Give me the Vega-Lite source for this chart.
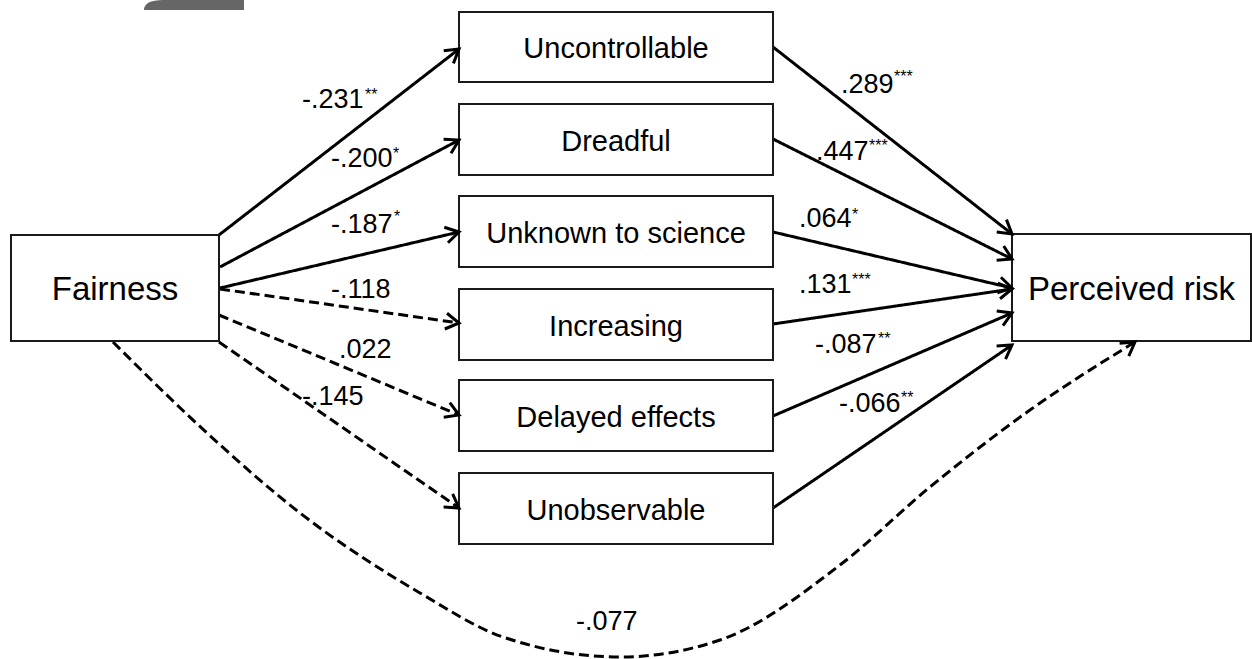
{
  "$schema": "https://vega.github.io/schema/vega-lite/v6.json",
  "width": 1252,
  "height": 659,
  "autosize": "none",
  "padding": 0,
  "background": "white",
  "config": {"view": {"stroke": null}, "font": "Liberation Sans"},
  "datasets": {
    "tab": [{"x": 194, "y": 5}],
    "boxes": [
      {"name": "Fairness", "kind": "outer", "x": 11, "x2": 219, "y": 235, "y2": 341},
      {"name": "Perceived risk", "kind": "outer", "x": 1012, "x2": 1251, "y": 234, "y2": 341},
      {"name": "Uncontrollable", "kind": "mediator", "x": 459, "x2": 773, "y": 12, "y2": 82},
      {"name": "Dreadful", "kind": "mediator", "x": 459, "x2": 773, "y": 104, "y2": 175},
      {"name": "Unknown to science", "kind": "mediator", "x": 459, "x2": 773, "y": 196, "y2": 267},
      {"name": "Increasing", "kind": "mediator", "x": 459, "x2": 773, "y": 289, "y2": 360},
      {"name": "Delayed effects", "kind": "mediator", "x": 459, "x2": 773, "y": 380, "y2": 451},
      {"name": "Unobservable", "kind": "mediator", "x": 459, "x2": 773, "y": 473, "y2": 544}
    ],
    "edges": [
      {"from": "Fairness", "to": "Uncontrollable", "path": "solid", "shape": "straight", "x": 219, "y": 235, "x2": 459, "y2": 49},
      {"from": "Fairness", "to": "Dreadful", "path": "solid", "shape": "straight", "x": 220, "y": 267, "x2": 459, "y2": 140},
      {"from": "Fairness", "to": "Unknown to science", "path": "solid", "shape": "straight", "x": 220, "y": 288, "x2": 459, "y2": 232},
      {"from": "Fairness", "to": "Increasing", "path": "dashed", "shape": "straight", "x": 220, "y": 289, "x2": 459, "y2": 323},
      {"from": "Fairness", "to": "Delayed effects", "path": "dashed", "shape": "straight", "x": 219, "y": 315, "x2": 459, "y2": 415},
      {"from": "Fairness", "to": "Unobservable", "path": "dashed", "shape": "straight", "x": 219, "y": 342, "x2": 459, "y2": 508},
      {"from": "Uncontrollable", "to": "Perceived risk", "path": "solid", "shape": "straight", "x": 773, "y": 47, "x2": 1012, "y2": 234},
      {"from": "Dreadful", "to": "Perceived risk", "path": "solid", "shape": "straight", "x": 773, "y": 139, "x2": 1012, "y2": 259},
      {"from": "Unknown to science", "to": "Perceived risk", "path": "solid", "shape": "straight", "x": 773, "y": 232, "x2": 1012, "y2": 288},
      {"from": "Increasing", "to": "Perceived risk", "path": "solid", "shape": "straight", "x": 773, "y": 324, "x2": 1012, "y2": 289},
      {"from": "Delayed effects", "to": "Perceived risk", "path": "solid", "shape": "straight", "x": 773, "y": 416, "x2": 1012, "y2": 313},
      {"from": "Unobservable", "to": "Perceived risk", "path": "solid", "shape": "straight", "x": 773, "y": 508, "x2": 1012, "y2": 345},
      {"from": "Fairness", "to": "Perceived risk", "path": "dashed", "shape": "curve", "x": 930, "y": 487, "x2": 1135, "y2": 342}
    ],
    "curve": [
      {"i": 0, "x": 113, "y": 342},
      {"i": 1, "x": 207, "y": 433},
      {"i": 2, "x": 300, "y": 513},
      {"i": 3, "x": 420, "y": 593},
      {"i": 4, "x": 503, "y": 637},
      {"i": 5, "x": 620, "y": 657},
      {"i": 6, "x": 720, "y": 640},
      {"i": 7, "x": 840, "y": 565},
      {"i": 8, "x": 930, "y": 487},
      {"i": 9, "x": 1030, "y": 410},
      {"i": 10, "x": 1135, "y": 342}
    ],
    "labels": [
      {"text": "-.231", "x": 302, "y": 108, "stars": "**", "sx": 365, "sy": 100},
      {"text": "-.200", "x": 331, "y": 167, "stars": "*", "sx": 393, "sy": 159},
      {"text": "-.187", "x": 331, "y": 233, "stars": "*", "sx": 394, "sy": 222},
      {"text": "-.118", "x": 331, "y": 298, "stars": "", "sx": 0, "sy": 0},
      {"text": ".022", "x": 339, "y": 358, "stars": "", "sx": 0, "sy": 0},
      {"text": "-.145", "x": 302, "y": 405, "stars": "", "sx": 0, "sy": 0},
      {"text": ".289", "x": 841, "y": 93, "stars": "***", "sx": 894, "sy": 82},
      {"text": ".447", "x": 816, "y": 160, "stars": "***", "sx": 869, "sy": 151},
      {"text": ".064", "x": 799, "y": 227, "stars": "*", "sx": 852, "sy": 220},
      {"text": ".131", "x": 799, "y": 293, "stars": "***", "sx": 852, "sy": 285},
      {"text": "-.087", "x": 815, "y": 353, "stars": "**", "sx": 878, "sy": 344},
      {"text": "-.066", "x": 839, "y": 412, "stars": "**", "sx": 901, "sy": 403},
      {"text": "-.077", "x": 576, "y": 630, "stars": "", "sx": 0, "sy": 0}
    ]
  },
  "layer": [
    {
      "data": {"name": "tab"},
      "mark": {"type": "point", "shape": "M-1,0.1Q-1,-0.1,-0.62,-0.1L1,-0.1L1,0.1Z", "size": 10000, "filled": true, "fill": "#666666", "strokeWidth": 0, "opacity": 1},
      "encoding": {
        "x": {"field": "x", "type": "quantitative", "scale": {"domain": [0, 1252], "nice": false, "zero": false}, "axis": null},
        "y": {"field": "y", "type": "quantitative", "scale": {"domain": [0, 659], "nice": false, "zero": false, "reverse": true}, "axis": null}
      }
    },
    {
      "data": {"name": "edges"},
      "transform": [{"filter": "datum.shape == 'straight'"}],
      "mark": {"type": "rule", "color": "black", "strokeWidth": 3},
      "encoding": {
        "x": {"field": "x", "type": "quantitative", "scale": {"domain": [0, 1252], "nice": false, "zero": false}, "axis": null},
        "x2": {"field": "x2"},
        "y": {"field": "y", "type": "quantitative", "scale": {"domain": [0, 659], "nice": false, "zero": false, "reverse": true}, "axis": null},
        "y2": {"field": "y2"},
        "strokeDash": {"field": "path", "type": "nominal", "scale": {"domain": ["solid", "dashed"], "range": [[1, 0], [10, 5]]}, "legend": null}
      }
    },
    {
      "data": {"name": "curve"},
      "mark": {"type": "line", "color": "black", "strokeWidth": 3, "strokeDash": [10, 5], "interpolate": "monotone"},
      "encoding": {
        "x": {"field": "x", "type": "quantitative", "scale": {"domain": [0, 1252], "nice": false, "zero": false}, "axis": null},
        "y": {"field": "y", "type": "quantitative", "scale": {"domain": [0, 659], "nice": false, "zero": false, "reverse": true}, "axis": null},
        "order": {"field": "i", "type": "quantitative"}
      }
    },
    {
      "data": {"name": "boxes"},
      "mark": {"type": "rect", "fill": "white", "stroke": "#1a1a1a", "strokeWidth": 2},
      "encoding": {
        "x": {"field": "x", "type": "quantitative", "scale": {"domain": [0, 1252], "nice": false, "zero": false}, "axis": null},
        "x2": {"field": "x2"},
        "y": {"field": "y", "type": "quantitative", "scale": {"domain": [0, 659], "nice": false, "zero": false, "reverse": true}, "axis": null},
        "y2": {"field": "y2"}
      }
    },
    {
      "data": {"name": "boxes"},
      "transform": [
        {"filter": "datum.kind == 'outer'"},
        {"calculate": "(datum.x + datum.x2) / 2", "as": "cx"},
        {"calculate": "(datum.y + datum.y2) / 2", "as": "cy"}
      ],
      "mark": {"type": "text", "fontSize": 33, "align": "center", "baseline": "alphabetic", "dy": 12, "color": "black"},
      "encoding": {
        "x": {"field": "cx", "type": "quantitative", "scale": {"domain": [0, 1252], "nice": false, "zero": false}, "axis": null},
        "y": {"field": "cy", "type": "quantitative", "scale": {"domain": [0, 659], "nice": false, "zero": false, "reverse": true}, "axis": null},
        "text": {"field": "name"}
      }
    },
    {
      "data": {"name": "boxes"},
      "transform": [
        {"filter": "datum.kind == 'mediator'"},
        {"calculate": "(datum.x + datum.x2) / 2", "as": "cx"},
        {"calculate": "(datum.y + datum.y2) / 2", "as": "cy"}
      ],
      "mark": {"type": "text", "fontSize": 29, "align": "center", "baseline": "alphabetic", "dy": 11, "color": "black"},
      "encoding": {
        "x": {"field": "cx", "type": "quantitative", "scale": {"domain": [0, 1252], "nice": false, "zero": false}, "axis": null},
        "y": {"field": "cy", "type": "quantitative", "scale": {"domain": [0, 659], "nice": false, "zero": false, "reverse": true}, "axis": null},
        "text": {"field": "name"}
      }
    },
    {
      "data": {"name": "edges"},
      "transform": [{"calculate": "atan2(datum.y2 - datum.y, datum.x2 - datum.x) * 180 / PI", "as": "ang"}],
      "mark": {"type": "point", "shape": "M-1,-0.6L0,0L-1,0.6", "filled": false, "stroke": "black", "strokeWidth": 3, "size": 700, "opacity": 1, "strokeJoin": "miter"},
      "encoding": {
        "x": {"field": "x2", "type": "quantitative", "scale": {"domain": [0, 1252], "nice": false, "zero": false}, "axis": null},
        "y": {"field": "y2", "type": "quantitative", "scale": {"domain": [0, 659], "nice": false, "zero": false, "reverse": true}, "axis": null},
        "angle": {"field": "ang", "type": "quantitative", "scale": null}
      }
    },
    {
      "data": {"name": "labels"},
      "mark": {"type": "text", "fontSize": 27, "align": "left", "baseline": "alphabetic", "color": "black"},
      "encoding": {
        "x": {"field": "x", "type": "quantitative", "scale": {"domain": [0, 1252], "nice": false, "zero": false}, "axis": null},
        "y": {"field": "y", "type": "quantitative", "scale": {"domain": [0, 659], "nice": false, "zero": false, "reverse": true}, "axis": null},
        "text": {"field": "text"}
      }
    },
    {
      "data": {"name": "labels"},
      "transform": [{"filter": "datum.stars != ''"}],
      "mark": {"type": "text", "fontSize": 16, "align": "left", "baseline": "alphabetic", "color": "black"},
      "encoding": {
        "x": {"field": "sx", "type": "quantitative", "scale": {"domain": [0, 1252], "nice": false, "zero": false}, "axis": null},
        "y": {"field": "sy", "type": "quantitative", "scale": {"domain": [0, 659], "nice": false, "zero": false, "reverse": true}, "axis": null},
        "text": {"field": "stars"}
      }
    }
  ]
}
